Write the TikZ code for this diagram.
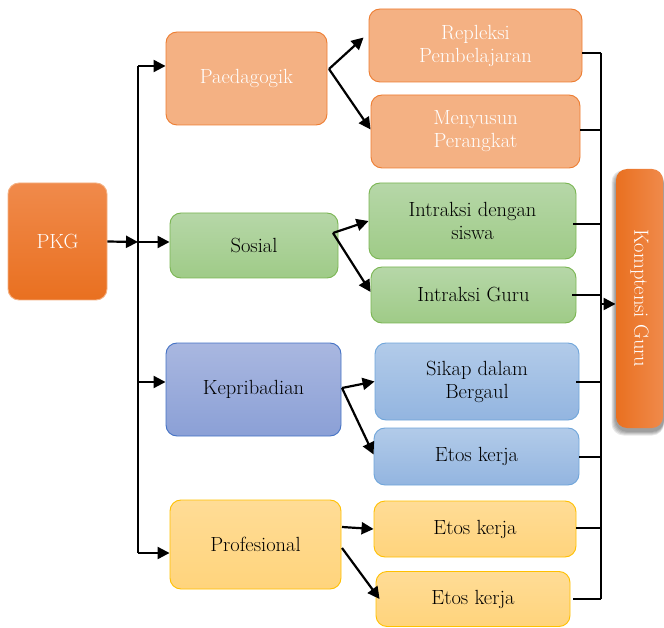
\documentclass[tikz,border=0pt]{standalone}
\usetikzlibrary{arrows.meta}
\definecolor{orL}{HTML}{F4B183}
\definecolor{orB}{HTML}{ED7D31}
\definecolor{orT}{HTML}{F08A4B}
\definecolor{orD}{HTML}{E97020}
\definecolor{grT}{HTML}{B6D7A8}
\definecolor{grD}{HTML}{9FCB87}
\definecolor{grB}{HTML}{7AB552}
\definecolor{blT}{HTML}{A9B7E0}
\definecolor{blD}{HTML}{8BA0D6}
\definecolor{blB}{HTML}{4472C4}
\definecolor{lbT}{HTML}{B2CBE9}
\definecolor{lbD}{HTML}{93B5E0}
\definecolor{lbB}{HTML}{6FA5DA}
\definecolor{yeT}{HTML}{FFDC96}
\definecolor{yeD}{HTML}{FFD47C}
\definecolor{yeB}{HTML}{FFC000}
\tikzset{
  box/.style={rounded corners=11pt, line width=0.9pt, align=center,
    font=\fontsize{20.5}{23}\selectfont, inner sep=2pt},
  orbox/.style={box, draw=orB, fill=orL, text=white},
  grbox/.style={box, draw=grB, top color=grT, bottom color=grD, text=black},
  blbox/.style={box, draw=blB, top color=blT, bottom color=blD, text=black},
  lbbox/.style={box, draw=lbB, top color=lbT, bottom color=lbD, text=black},
  yebox/.style={box, draw=yeB, top color=yeT, bottom color=yeD, text=black},
  arr/.style={line width=2.2pt, -{Triangle[length=12pt,width=12pt]}},
  trunk/.style={line width=1.3pt},
  bus/.style={line width=2pt},
  softshadow/.style={fill=black, opacity=0.09}
}
\begin{document}
\begin{tikzpicture}[x=1pt,y=-1pt]
\useasboundingbox (0,0) rectangle (664,628);
% soft shadow behind Komptensi Guru
\foreach \g in {1,2,3,4,5}{
  \fill[softshadow, rounded corners=12pt]
    (616-\g*0.9,170+3-\g*0.6) rectangle (664,428+3+\g*0.9);
}
% nodes
\node[box, draw=orL, top color=orT, bottom color=orD, text=white,
  minimum width=99pt, minimum height=117pt] (pkg) at (57.5,241.5) {PKG};
\node[orbox, minimum width=161pt, minimum height=93pt] (paed) at (246.5,78.5) {Paedagogik};
\node[grbox, minimum width=168pt, minimum height=65pt] (sos) at (254,245.5) {Sosial};
\node[blbox, minimum width=175pt, minimum height=93pt] (kep) at (253.5,389.5) {Kepribadian};
\node[yebox, minimum width=171pt, minimum height=89pt] (prof) at (255.5,544.5) {Profesional};
\node[orbox, minimum width=213pt, minimum height=73pt] (rep) at (475.5,45.5) {Repleksi\\Pembelajaran};
\node[orbox, minimum width=209pt, minimum height=73pt] (meny) at (475.5,131.5) {Menyusun\\Perangkat};
\node[grbox, minimum width=207pt, minimum height=76pt] (ids) at (472.5,221) {Intraksi dengan\\siswa};
\node[grbox, minimum width=205pt, minimum height=56pt] (ig) at (473.5,295) {Intraksi Guru};
\node[lbbox, minimum width=204pt, minimum height=77pt] (sik) at (477,381.5) {Sikap dalam\\Bergaul};
\node[lbbox, minimum width=205pt, minimum height=57pt] (etb) at (476.5,456.5) {Etos kerja};
\node[yebox, minimum width=202pt, minimum height=56pt] (ety1) at (475,529) {Etos kerja};
\node[yebox, minimum width=194pt, minimum height=55pt] (ety2) at (473,599) {Etos kerja};
\node[box, draw=none, left color=orD, right color=orT, text=white,
  minimum width=259pt, minimum height=47pt, rotate=-90] (komp) at (639.5,298.5) {Komptensi Guru};
% left trunk
\coordinate (tTop) at (138,66);
\coordinate (tMid) at (138,242);
\coordinate (tK) at (138,382);
\coordinate (tBot) at (138,553);
\draw[trunk] (tTop) -- (tBot);
\draw[arr] (pkg.east) -- (tMid);
\draw[arr] (tTop) -- (paed.west |- tTop);
\draw[arr] (tMid) -- (sos.west |- tMid);
\draw[arr] (tK) -- (kep.west |- tK);
\draw[arr] (tBot) -- (prof.west |- tBot);
% fans
\coordinate (pf) at (329,69);
\coordinate (sf) at (333,233);
\coordinate (kf) at (342,388);
\coordinate (rf1) at (342,527);
\coordinate (rf2) at (342,548);
\draw[arr] (pf) -- ([xshift=-5pt,yshift=8pt]rep.west);
\draw[arr] (pf) -- ([yshift=2pt]meny.west);
\draw[arr] (sf) -- (ids.west);
\draw[arr] (sf) -- ([yshift=3pt]ig.west);
\draw[arr] (kf) -- (sik.west);
\draw[arr] (kf) -- ([yshift=2pt]etb.west);
\draw[arr] (rf1) -- (ety1.west);
\draw[arr] (rf2) -- ([xshift=4pt]ety2.west);
% right bus
\coordinate (b1) at (601,53);
\coordinate (b2) at (601,130);
\coordinate (b3) at (601,224);
\coordinate (b4) at (601,295);
\coordinate (b5) at (601,382);
\coordinate (b6) at (601,457);
\coordinate (b7) at (601,528);
\coordinate (b8) at (601,599);
\coordinate (bk) at (601,304);
\draw[bus] (b1) -- (b8);
\draw[bus] (b1 -| rep.east) -- (b1);
\draw[bus] (b2 -| meny.east) -- (b2);
\draw[bus] ([xshift=-3pt]b3 -| ids.east) -- (b3);
\draw[bus] ([xshift=-4pt]b4 -| ig.east) -- (b4);
\draw[bus] ([xshift=-3pt]b5 -| sik.east) -- (b5);
\draw[bus] (b6 -| etb.east) -- (b6);
\draw[bus] (b7 -| ety1.east) -- (b7);
\draw[bus] ([xshift=3pt]b8 -| ety2.east) -- (b8);
\draw[arr] (bk) -- (komp.south |- bk);
\end{tikzpicture}
\end{document}
